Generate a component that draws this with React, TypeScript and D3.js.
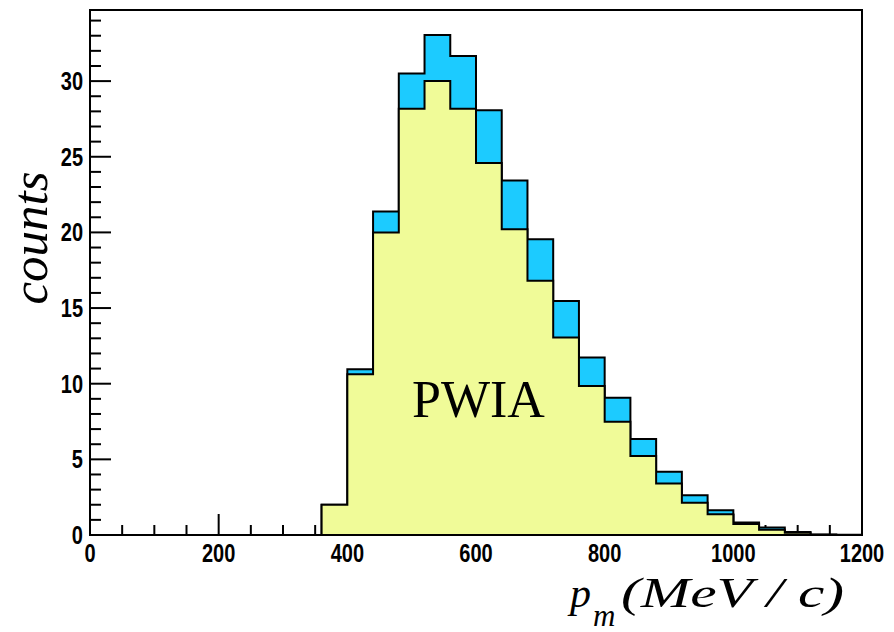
import React from "react";
import * as d3 from "d3";

// Missing-momentum bins (MeV/c), 40 MeV wide, lower edges
const binLow = [
  0, 40, 80, 120, 160, 200, 240, 280, 320, 360, 400, 440, 480, 520, 560, 600,
  640, 680, 720, 760, 800, 840, 880, 920, 960, 1000, 1040, 1080, 1120, 1160,
];
const binWidth = 40;

// Full calculation (drawn behind)
const totalCounts = [
  0, 0, 0, 0, 0, 0, 0, 0, 0, 2.0, 10.96, 21.38, 30.5, 33.05, 31.66, 28.07,
  23.43, 19.55, 15.46, 11.74, 9.07, 6.34, 4.18, 2.62, 1.63, 0.82, 0.5, 0.2,
  0.04, 0.01,
];
// PWIA contribution (drawn in front)
const pwiaCounts = [
  0, 0, 0, 0, 0, 0, 0, 0, 0, 2.0, 10.63, 20.0, 28.18, 30.0, 28.18, 24.59,
  20.21, 16.8, 13.06, 9.84, 7.48, 5.22, 3.41, 2.13, 1.37, 0.72, 0.35, 0.15,
  0.02, 0.005,
];

const xMajor = [0, 200, 400, 600, 800, 1000, 1200];
const yMajor = [0, 5, 10, 15, 20, 25, 30];

const W = 894;
const H = 632;
const left = 90;
const right = 862;
const top = 10;
const bottom = 535;

const x = d3.scaleLinear().domain([0, 1200]).range([left, right]);
const y = d3.scaleLinear().domain([0, 34.7]).range([bottom, top]);

function stepOutline(values: number[]): string {
  const p = d3.path();
  p.moveTo(x(binLow[0]), y(0));
  values.forEach((v, i) => {
    p.lineTo(x(binLow[i]), y(v));
    p.lineTo(x(binLow[i] + binWidth), y(v));
  });
  p.lineTo(x(binLow[binLow.length - 1] + binWidth), y(0));
  return p.toString();
}

const tickFont = "'Liberation Sans', Arial, sans-serif";
const serif = "'Liberation Serif', 'Times New Roman', serif";
const narrow = 0.8;

export default function App() {
  const xMinor = d3.range(0, 1201, 50).filter((v) => !xMajor.includes(v));
  const yMinor = d3.range(0, 35, 1).filter((v) => !yMajor.includes(v));
  const blue = "#1ccbff";
  const yellow = "#f0fb98";

  return (
    <svg
      width={W}
      height={H}
      style={{ position: "absolute", left: 0, top: 0, background: "#fff" }}
    >
      {/* axis ticks */}
      <g stroke="#000" strokeWidth={2}>
        {yMajor.map((v) => (
          <line key={"ym" + v} x1={left} x2={left + 21} y1={y(v)} y2={y(v)} />
        ))}
        {yMinor.map((v) => (
          <line key={"yn" + v} x1={left} x2={left + 11} y1={y(v)} y2={y(v)} />
        ))}
        {xMajor.map((v) => (
          <line key={"xm" + v} x1={x(v)} x2={x(v)} y1={bottom} y2={bottom - 21} />
        ))}
        {xMinor.map((v) => (
          <line key={"xn" + v} x1={x(v)} x2={x(v)} y1={bottom} y2={bottom - 10} />
        ))}
      </g>

      {/* histograms */}
      <path d={stepOutline(totalCounts)} fill={blue} stroke="#000" strokeWidth={2} />
      <path d={stepOutline(pwiaCounts)} fill={yellow} stroke="#000" strokeWidth={2} />

      {/* frame */}
      <rect
        x={left}
        y={top}
        width={right - left}
        height={bottom - top}
        fill="none"
        stroke="#000"
        strokeWidth={2}
      />

      {/* tick labels */}
      <g fontFamily={tickFont} fontWeight="bold" fontSize={25} fill="#000">
        {yMajor.map((v) => (
          <text
            key={"yl" + v}
            transform={`translate(${left - 7},${y(v) + 9}) scale(${narrow},1)`}
            textAnchor="end"
          >
            {v}
          </text>
        ))}
        {xMajor.map((v) => (
          <text
            key={"xl" + v}
            transform={`translate(${x(v)},562) scale(${narrow},1)`}
            textAnchor="middle"
          >
            {v}
          </text>
        ))}
      </g>

      {/* axis titles */}
      <text
        transform="translate(47,238) rotate(-90)"
        textAnchor="middle"
        fontFamily={serif}
        fontStyle="italic"
        fontSize={51}
      >
        counts
      </text>
      <text x={570} y={607} fontFamily={serif} fontStyle="italic" fontSize={42}>
        p
      </text>
      <text x={593} y={626} fontFamily={serif} fontStyle="italic" fontSize={31}>
        m
      </text>
      <text
        x={621}
        y={607}
        fontFamily={serif}
        fontStyle="italic"
        fontSize={42}
        textLength={223}
        lengthAdjust="spacingAndGlyphs"
      >
        (MeV / c)
      </text>

      <text x={412} y={417} fontFamily={serif} fontSize={52}>
        PWIA
      </text>
    </svg>
  );
}
